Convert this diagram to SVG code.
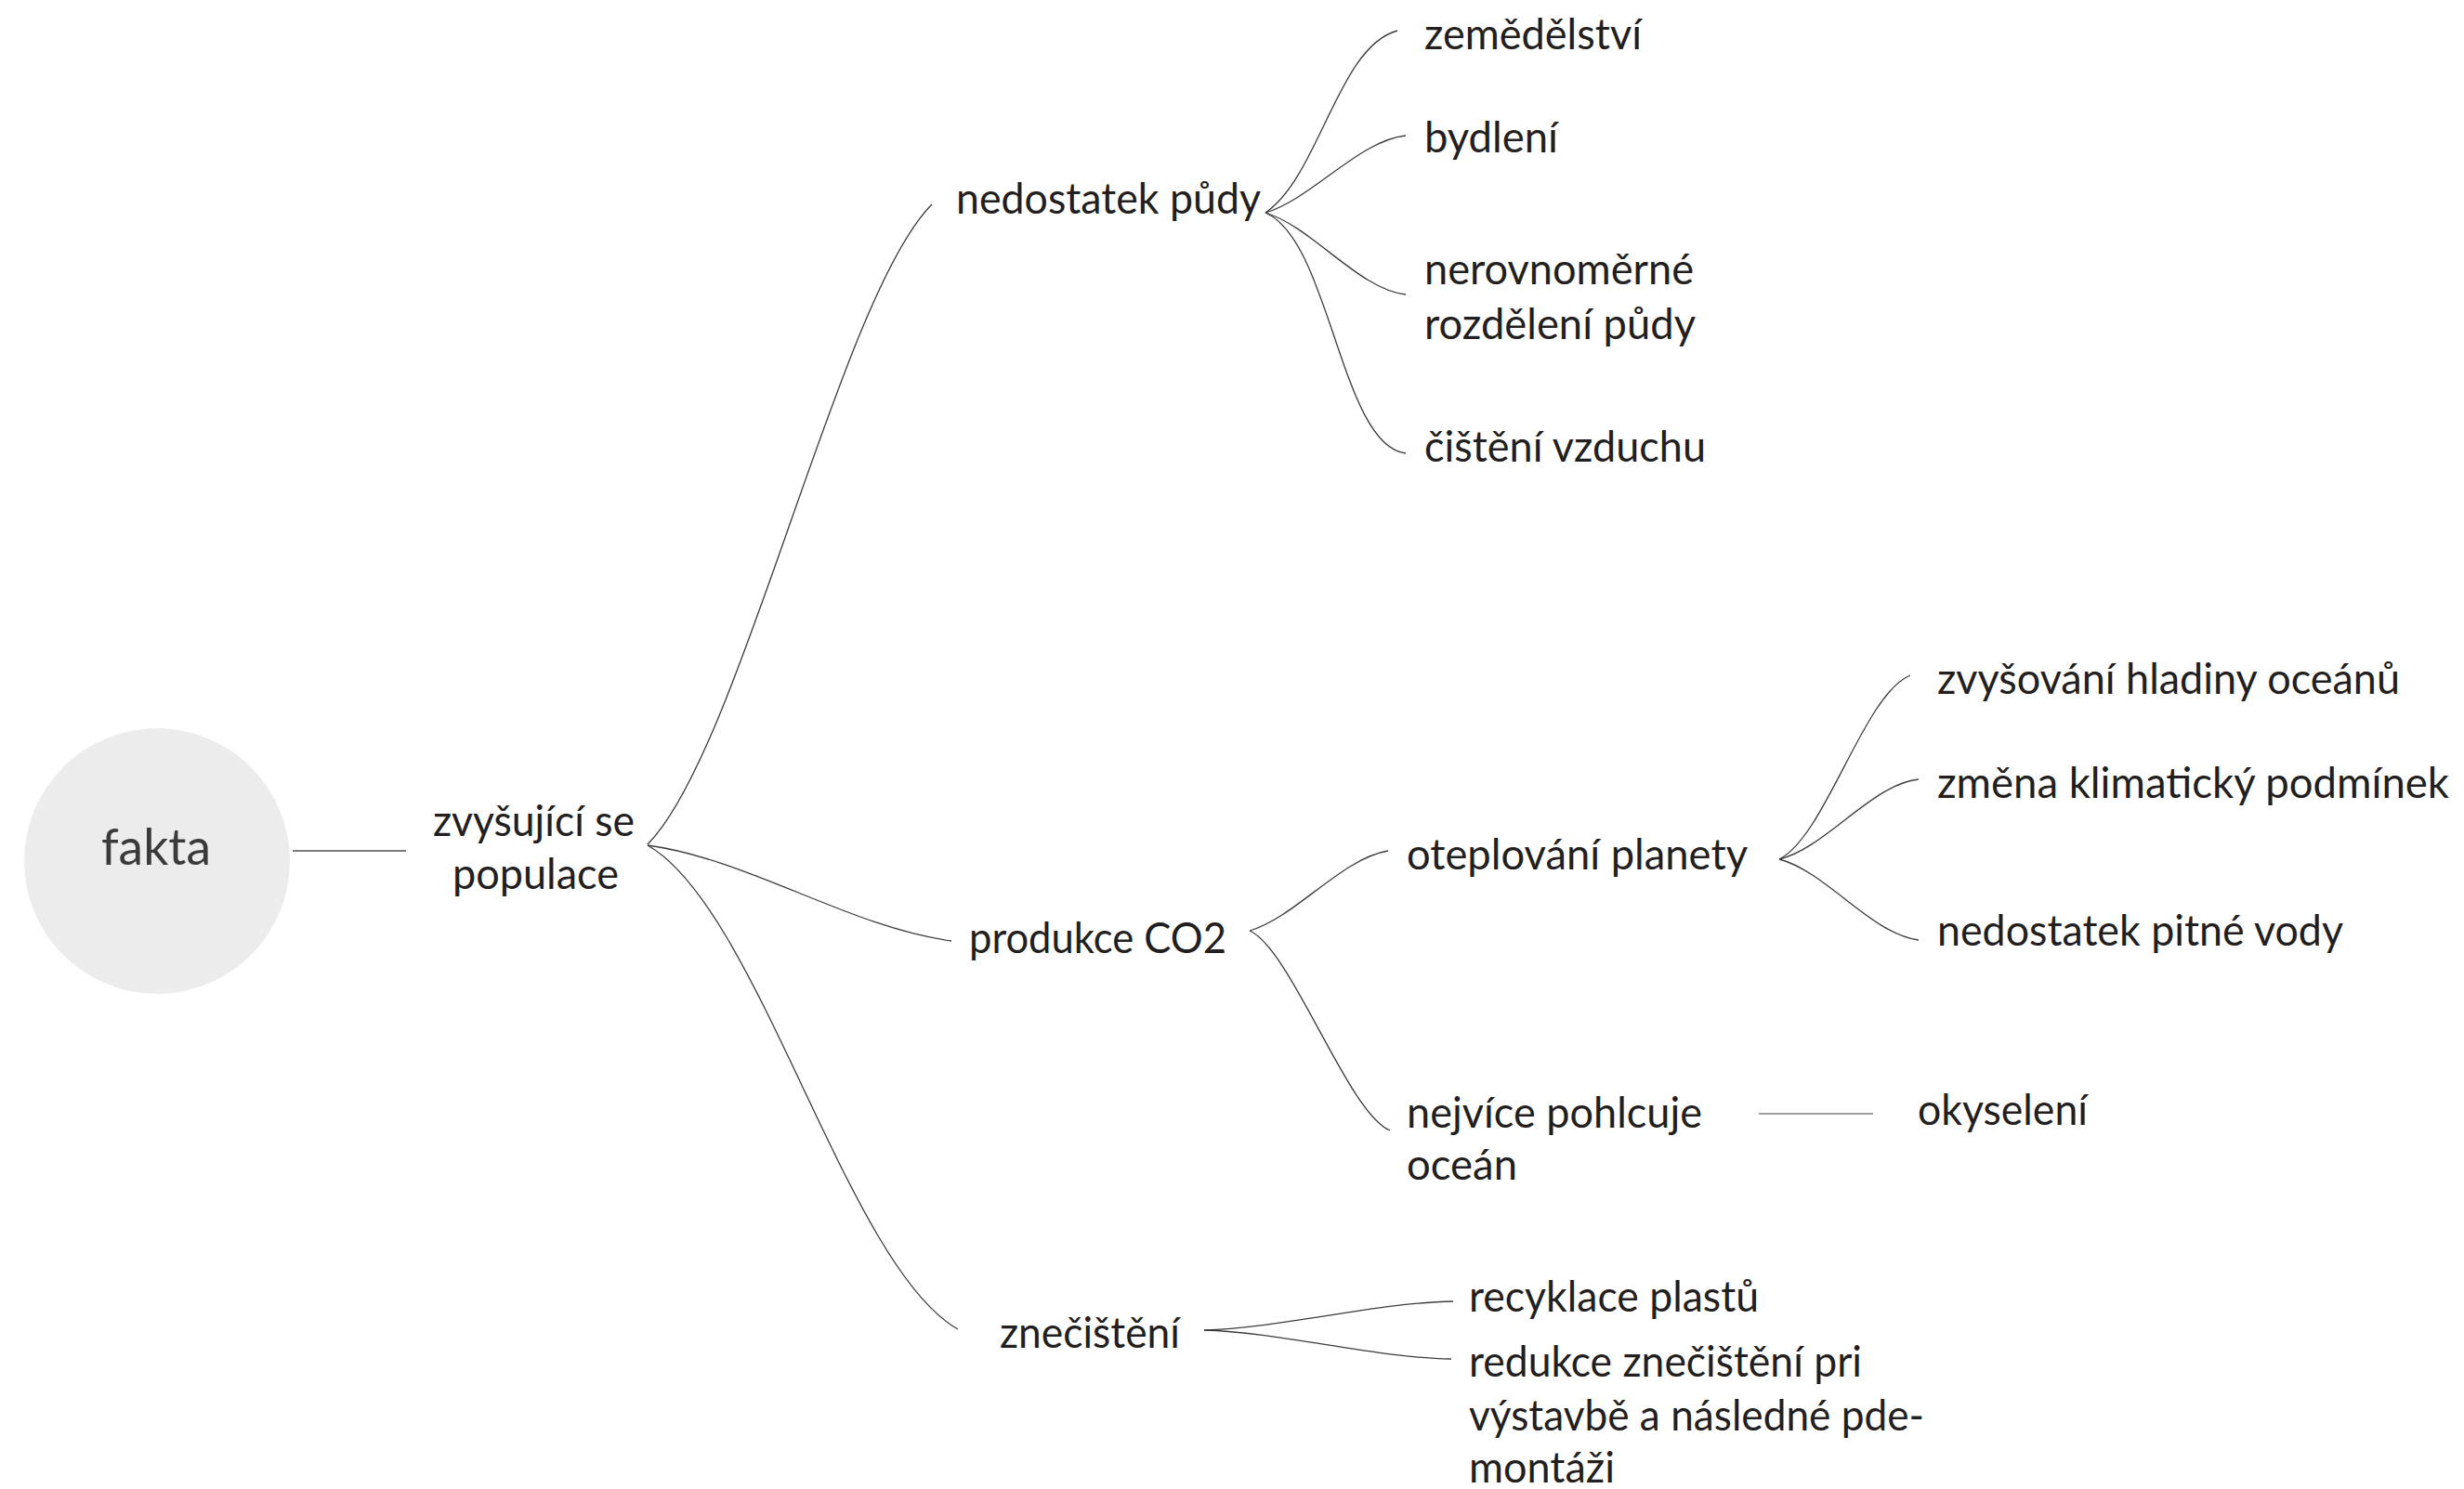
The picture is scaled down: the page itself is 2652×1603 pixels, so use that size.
<svg xmlns="http://www.w3.org/2000/svg" width="2652" height="1603" viewBox="0 0 2652 1603">
<style>
.t{font-family:Lato,"Open Sans","Noto Sans",sans-serif;font-size:47px;fill:#231f20}
.root{font-family:Lato,"Open Sans","Noto Sans",sans-serif;font-size:54px;fill:#3a3a3a}
.c{fill:none;stroke:#3c3c3c;stroke-width:1.3}
.s{fill:none;stroke:#7d7d7d;stroke-width:2}
</style>
<rect width="2652" height="1603" fill="#ffffff"/>
<g id="connectors">
<path class="s" d="M315,916 H437"/>
<path class="c" d="M697,909 C797,809 903,320 1003,220"/>
<path class="c" d="M697,910 C807,925 914,998 1024,1013"/>
<path class="c" d="M697,910 C817,978 911,1363 1031,1431"/>
<path class="c" d="M1362,229 C1420,190 1440,50 1504,33"/>
<path class="c" d="M1362,229 C1412,214 1463,151 1513,146"/>
<path class="c" d="M1362,229 C1412,244 1463,312 1513,317"/>
<path class="c" d="M1362,229 C1432,259 1443,480 1513,488"/>
<path class="c" d="M1345,1002 C1395,987 1444,924 1494,916"/>
<path class="c" d="M1345,1002 C1390,1022 1451,1199 1496,1217"/>
<path class="c" d="M1915,925 C1965,900 2006,747 2056,727"/>
<path class="c" d="M1915,925 C1965,913 2015,844 2065,839"/>
<path class="c" d="M1915,925 C1965,938 2015,1006 2065,1012"/>
<path class="c" d="M1296,1432 C1376,1430 1484,1402 1564,1401"/>
<path class="c" d="M1296,1432 C1376,1434 1482,1462 1562,1463"/>
<path class="s" d="M1893,1199 H2016" style="stroke-width:1.5"/>
</g>
<g id="fakta">
<circle cx="169" cy="927" r="143" fill="#ebeceb"/>
<text class="root" x="109" y="931" textLength="118" lengthAdjust="spacingAndGlyphs">fakta</text>
</g>
<g id="zvysujici-se-populace">
<text class="t" x="466" y="900" textLength="217" lengthAdjust="spacingAndGlyphs">zvyšující se</text>
<text class="t" x="487" y="957" textLength="179" lengthAdjust="spacingAndGlyphs">populace</text>
</g>
<g id="nedostatek-pudy">
<text class="t" x="1029" y="230" textLength="328" lengthAdjust="spacingAndGlyphs">nedostatek půdy</text>
</g>
<g id="zemedelstvi">
<text class="t" x="1533" y="53" textLength="234" lengthAdjust="spacingAndGlyphs">zemědělství</text>
</g>
<g id="bydleni">
<text class="t" x="1533" y="164" textLength="144" lengthAdjust="spacingAndGlyphs">bydlení</text>
</g>
<g id="nerovnomerne">
<text class="t" x="1533" y="306" textLength="290" lengthAdjust="spacingAndGlyphs">nerovnoměrné</text>
<text class="t" x="1533" y="365" textLength="292" lengthAdjust="spacingAndGlyphs">rozdělení půdy</text>
</g>
<g id="cisteni-vzduchu">
<text class="t" x="1533" y="497" textLength="303" lengthAdjust="spacingAndGlyphs">čištění vzduchu</text>
</g>
<g id="produkce-co2">
<text class="t" x="1043" y="1026" textLength="277" lengthAdjust="spacingAndGlyphs">produkce CO2</text>
</g>
<g id="oteplovani-planety">
<text class="t" x="1514" y="936" textLength="367" lengthAdjust="spacingAndGlyphs">oteplování planety</text>
</g>
<g id="zvysovani-hladiny">
<text class="t" x="2085" y="747" textLength="498" lengthAdjust="spacingAndGlyphs">zvyšování hladiny oceánů</text>
</g>
<g id="zmena-klimaticky">
<text class="t" x="2085" y="859" textLength="551" lengthAdjust="spacingAndGlyphs">změna klimatický podmínek</text>
</g>
<g id="nedostatek-pitne-vody">
<text class="t" x="2085" y="1018" textLength="437" lengthAdjust="spacingAndGlyphs">nedostatek pitné vody</text>
</g>
<g id="nejvice-pohlcuje">
<text class="t" x="1514" y="1214" textLength="318" lengthAdjust="spacingAndGlyphs">nejvíce pohlcuje</text>
<text class="t" x="1514" y="1270" textLength="119" lengthAdjust="spacingAndGlyphs">oceán</text>
</g>
<g id="okyseleni">
<text class="t" x="2064" y="1211" textLength="183" lengthAdjust="spacingAndGlyphs">okyselení</text>
</g>
<g id="znecisteni">
<text class="t" x="1076" y="1451" textLength="194" lengthAdjust="spacingAndGlyphs">znečištění</text>
</g>
<g id="recyklace-plastu">
<text class="t" x="1581" y="1412" textLength="312" lengthAdjust="spacingAndGlyphs">recyklace plastů</text>
</g>
<g id="redukce-znecisteni">
<text class="t" x="1581" y="1482" textLength="423" lengthAdjust="spacingAndGlyphs">redukce znečištění pri</text>
<text class="t" x="1581" y="1540" textLength="490" lengthAdjust="spacingAndGlyphs">výstavbě a následné pde-</text>
<text class="t" x="1581" y="1596" textLength="157" lengthAdjust="spacingAndGlyphs">montáži</text>
</g>
</svg>
